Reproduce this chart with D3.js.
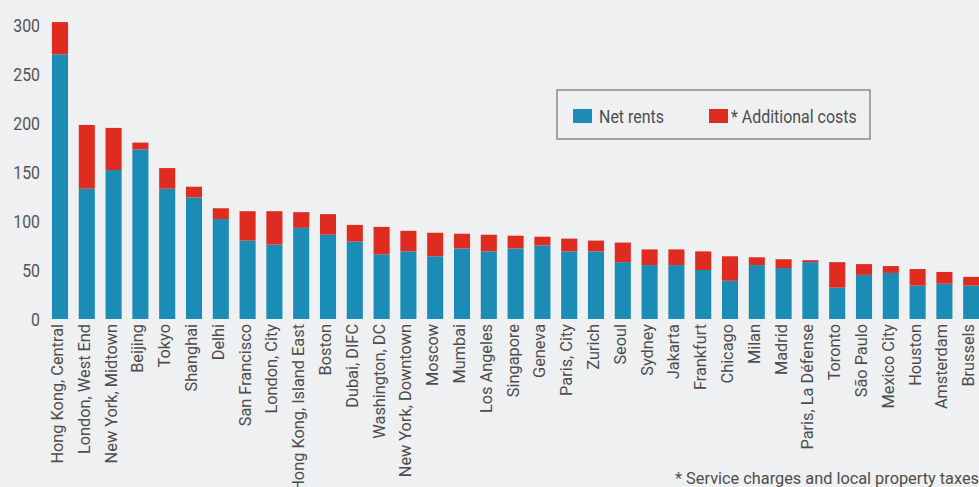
<!DOCTYPE html>
<html>
<head>
<meta charset="utf-8">
<script src="https://cdn.jsdelivr.net/npm/d3@7"></script>
<style>
  body { margin: 0; background: #eff0f1; }
  svg { display: block; }
  text { font-family: Roboto, "Open Sans", sans-serif; fill: #4d4d4d; }
</style>
</head>
<body>
<svg id="chart" width="979" height="487"></svg>
<script>
const cities = ['Hong Kong, Central', 'London, West End', 'New York, Midtown', 'Beijing', 'Tokyo',
    'Shanghai', 'Delhi', 'San Francisco', 'London, City', 'Hong Kong, Island East', 'Boston',
    'Dubai, DIFC', 'Washington, DC', 'New York, Downtown', 'Moscow', 'Mumbai', 'Los Angeles',
    'Singapore', 'Geneva', 'Paris, City', 'Zurich', 'Seoul', 'Sydney', 'Jakarta', 'Frankfurt',
    'Chicago', 'Milan', 'Madrid', 'Paris, La Défense', 'Toronto', 'São Paulo', 'Mexico City',
    'Houston', 'Amsterdam', 'Brussels']

const netRents = [270, 133, 152, 173, 133, 124, 102, 80, 76, 93, 86,
    79, 66, 69, 64, 72, 69, 72, 75, 69, 69, 58, 55, 55, 50,
    39, 55, 52, 58, 32, 45, 47, 34, 36, 34]

const totals = [303, 198, 195, 180, 154, 135, 113, 110, 110, 109, 107,
    96, 94, 90, 88, 87, 86, 85, 84, 82, 80, 78, 71, 71, 69,
    64, 63, 61, 60, 58, 56, 54, 51, 48, 43]

const yTicks = [0, 50, 100, 150, 200, 250, 300]
const seriesNames = ['Net rents', '* Additional costs']
const footnote = '* Service charges and local property taxes'

const BLUE = '#1b8cb5', RED = '#df2c21'

const svg = d3.select('#chart')

let x = d3.scaleBand()
    .domain(cities)
    .range([46.6, 46.6 + 35 * 26.8])
    .paddingInner(0.4)
    .paddingOuter(0.2)

let y = d3.scaleLinear()
    .domain([0, 300])
    .range([319, 25])

let bars = svg.append('g')

bars.selectAll('rect.net')
    .data(cities)
    .enter()
    .append('rect')
    .attr('class', 'net')
    .attr('x', d => x(d))
    .attr('width', x.bandwidth())
    .attr('y', (d, i) => y(netRents[i]))
    .attr('height', (d, i) => y(0) - y(netRents[i]))
    .attr('fill', BLUE)

bars.selectAll('rect.extra')
    .data(cities)
    .enter()
    .append('rect')
    .attr('class', 'extra')
    .attr('x', d => x(d))
    .attr('width', x.bandwidth())
    .attr('y', (d, i) => y(totals[i]))
    .attr('height', (d, i) => y(netRents[i]) - y(totals[i]))
    .attr('fill', RED)

// y axis, just the numbers
svg.append('g')
    .selectAll('text')
    .data(yTicks)
    .enter()
    .append('text')
    .attr('transform', d => `translate(40,${y(d) + 1}) scale(0.88,1)`)
    .attr('text-anchor', 'end')
    .attr('dy', '0.35em')
    .style('font-size', '18px')
    .style('fill', '#555')
    .text(d => d)

// rotated city labels
svg.append('g')
    .selectAll('text')
    .data(cities)
    .enter()
    .append('text')
    .attr('transform', d => `translate(${x(d) + x.bandwidth() / 2 - 3},324) rotate(-90) scale(0.96,1)`)
    .attr('text-anchor', 'end')
    .attr('dy', '0.35em')
    .style('font-size', '17px')
    .text(d => d)

// legend
let legend = svg.append('g')
legend.append('rect')
    .attr('x', 557).attr('y', 90)
    .attr('width', 313).attr('height', 49)
    .attr('fill', 'none')
    .attr('stroke', '#8a8a8a')
    .attr('stroke-width', 1.5)

let legendItems = [
    {name: seriesNames[0], color: BLUE, sx: 573, tx: 599},
    {name: seriesNames[1], color: RED, sx: 709, tx: 731}
]
legendItems.forEach(it => {
    legend.append('rect')
        .attr('x', it.sx).attr('y', 109)
        .attr('width', 19).attr('height', 14)
        .attr('fill', it.color)
    legend.append('text')
        .attr('transform', `translate(${it.tx},116) scale(0.84,1)`)
        .attr('dy', '0.35em')
        .style('font-size', '19px')
        .text(it.name)
})

svg.append('text')
    .attr('transform', 'translate(979,478) scale(0.96,1)')
    .attr('text-anchor', 'end')
    .attr('dy', '0.35em')
    .style('font-size', '17px')
    .text(footnote)
</script>
</body>
</html>
